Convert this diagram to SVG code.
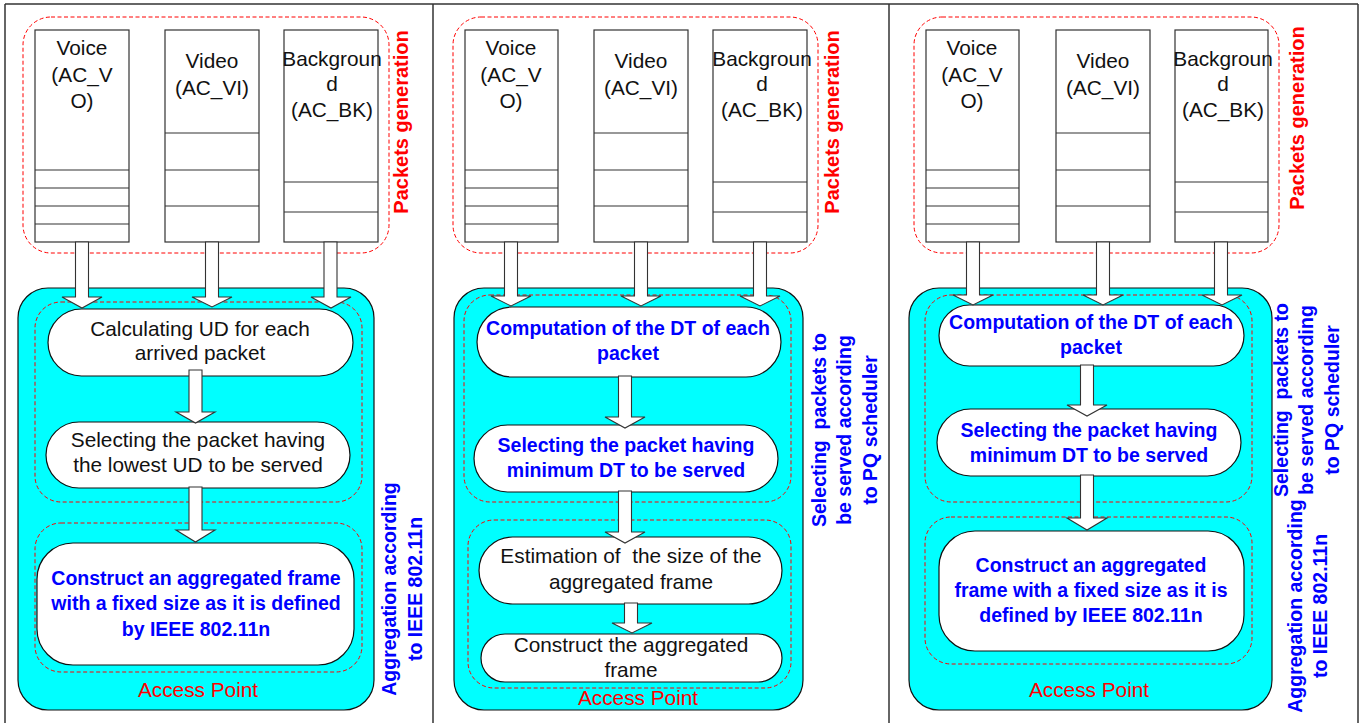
<svg xmlns="http://www.w3.org/2000/svg" width="1368" height="723" viewBox="0 0 1368 723">
<style>
.frame{fill:none;stroke:#333;stroke-width:1.5}
.q{fill:#fff;stroke:#333;stroke-width:1.2}
.ql{stroke:#333;stroke-width:1.2}
.dash{fill:none;stroke:#ff0000;stroke-width:1;stroke-dasharray:4 2.5}
.ap{fill:#00ffff;stroke:#111;stroke-width:1.2}
.ov{fill:#fff;stroke:#111;stroke-width:1.2}
.arr{fill:#fff;stroke:#333;stroke-width:1.1}
.t{font-family:"Liberation Sans",Arial,sans-serif;font-size:20.8px;fill:#111;text-anchor:middle}
.b{font-family:"Liberation Sans",Arial,sans-serif;font-size:19.5px;font-weight:bold;fill:#0000ff;text-anchor:middle}
.r{font-family:"Liberation Sans",Arial,sans-serif;font-size:20.8px;fill:#ff0000;text-anchor:middle}
.rb{font-family:"Liberation Sans",Arial,sans-serif;font-size:20px;font-weight:bold;fill:#ff0000;text-anchor:middle}
</style>
<rect width="1368" height="723" fill="#fff"/>
<g id="frame">
<line class="frame" x1="5" y1="4" x2="1358" y2="4"/>
<line class="frame" x1="5" y1="4" x2="5" y2="723"/>
<line class="frame" x1="433" y1="4" x2="433" y2="723"/>
<line class="frame" x1="889" y1="4" x2="889" y2="723"/>
<line class="frame" x1="1358" y1="4" x2="1358" y2="723"/>
</g>

<!-- Panel 1 -->
<g id="p1-gen">
<rect class="dash" x="23" y="17" width="366" height="236" rx="28"/>
<text class="rb" transform="translate(408 122) rotate(-90)">Packets generation</text>
</g>
<g id="p1-voice">
<rect class="q" x="35" y="30" width="94" height="212"/>
<line class="ql" x1="35" y1="170" x2="129" y2="170"/><line class="ql" x1="35" y1="188" x2="129" y2="188"/><line class="ql" x1="35" y1="206" x2="129" y2="206"/><line class="ql" x1="35" y1="224" x2="129" y2="224"/>
<text class="t"><tspan x="82" y="55">Voice</tspan><tspan x="82" y="82">(AC_V</tspan><tspan x="82" y="108">O)</tspan></text>
</g>
<g id="p1-video">
<rect class="q" x="165" y="30" width="94" height="212"/>
<line class="ql" x1="165" y1="133" x2="259" y2="133"/><line class="ql" x1="165" y1="170" x2="259" y2="170"/><line class="ql" x1="165" y1="206" x2="259" y2="206"/>
<text class="t"><tspan x="212" y="68">Video</tspan><tspan x="212" y="95">(AC_VI)</tspan></text>
</g>
<g id="p1-bk">
<rect class="q" x="284" y="30" width="94" height="212"/>
<line class="ql" x1="284" y1="182" x2="378" y2="182"/><line class="ql" x1="284" y1="212" x2="378" y2="212"/>
<text class="t"><tspan x="332" y="66">Backgroun</tspan><tspan x="332" y="91">d</tspan><tspan x="332" y="117">(AC_BK)</tspan></text>
</g>
<g id="p1-ap">
<rect class="ap" x="18" y="288" width="356" height="422" rx="30"/>
<rect class="dash" x="35" y="302" width="327" height="200" rx="26"/>
<rect class="dash" x="35" y="523" width="327" height="149" rx="26"/>
<text class="r" x="198" y="697">Access Point</text>
</g>
<g id="p1-n1">
<rect class="ov" x="48" y="309" width="305" height="67" rx="33.5"/>
<text class="t"><tspan x="200" y="336">Calculating UD for each</tspan><tspan x="200" y="360">arrived packet</tspan></text>
</g>
<g id="p1-n2">
<rect class="ov" x="46" y="422" width="304" height="66" rx="33"/>
<text class="t"><tspan x="198" y="447">Selecting the packet having</tspan><tspan x="198" y="472">the lowest UD to be served</tspan></text>
</g>
<g id="p1-n3">
<rect class="ov" x="37" y="543" width="317" height="122" rx="36"/>
<text class="b"><tspan x="196" y="585">Construct an aggregated frame</tspan><tspan x="196" y="610">with a fixed size as it is defined</tspan><tspan x="196" y="636">by IEEE 802.11n</tspan></text>
</g>
<g id="p1-label">
<text class="b" transform="translate(396 589) rotate(-90)">Aggregation according</text>
<text class="b" transform="translate(422 589) rotate(-90)">to IEEE 802.11n</text>
</g>

<!-- Panel 2 -->
<g id="p2-gen">
<rect class="dash" x="453" y="17" width="365" height="236" rx="28"/>
<text class="rb" transform="translate(839 122) rotate(-90)">Packets generation</text>
</g>
<g id="p2-voice">
<rect class="q" x="465" y="30" width="93" height="212"/>
<line class="ql" x1="465" y1="170" x2="558" y2="170"/><line class="ql" x1="465" y1="188" x2="558" y2="188"/><line class="ql" x1="465" y1="206" x2="558" y2="206"/><line class="ql" x1="465" y1="224" x2="558" y2="224"/>
<text class="t"><tspan x="511" y="55">Voice</tspan><tspan x="511" y="82">(AC_V</tspan><tspan x="511" y="108">O)</tspan></text>
</g>
<g id="p2-video">
<rect class="q" x="594" y="30" width="94" height="212"/>
<line class="ql" x1="594" y1="133" x2="688" y2="133"/><line class="ql" x1="594" y1="170" x2="688" y2="170"/><line class="ql" x1="594" y1="206" x2="688" y2="206"/>
<text class="t"><tspan x="641" y="68">Video</tspan><tspan x="641" y="95">(AC_VI)</tspan></text>
</g>
<g id="p2-bk">
<rect class="q" x="713" y="30" width="94" height="212"/>
<line class="ql" x1="713" y1="182" x2="807" y2="182"/><line class="ql" x1="713" y1="212" x2="807" y2="212"/>
<text class="t"><tspan x="762" y="66">Backgroun</tspan><tspan x="762" y="91">d</tspan><tspan x="762" y="117">(AC_BK)</tspan></text>
</g>
<g id="p2-ap">
<rect class="ap" x="454" y="288" width="349" height="422" rx="30"/>
<rect class="dash" x="464" y="295" width="327" height="207" rx="26"/>
<rect class="dash" x="468" y="520" width="323" height="168" rx="26"/>
<text class="r" x="638" y="705">Access Point</text>
</g>
<g id="p2-n1">
<rect class="ov" x="477" y="307" width="304" height="70" rx="35"/>
<text class="b"><tspan x="628" y="335">Computation of the DT of each</tspan><tspan x="628" y="360">packet</tspan></text>
</g>
<g id="p2-n2">
<rect class="ov" x="474" y="425" width="304" height="67" rx="33.5"/>
<text class="b"><tspan x="626" y="452">Selecting the packet having</tspan><tspan x="626" y="477">minimum DT to be served</tspan></text>
</g>
<g id="p2-n3">
<rect class="ov" x="479" y="537" width="303" height="67" rx="33.5"/>
<text class="t" xml:space="preserve"><tspan x="631" y="563">Estimation of  the size of the</tspan><tspan x="631" y="589">aggregated frame</tspan></text>
</g>
<g id="p2-n4">
<rect class="ov" x="481" y="634" width="301" height="48" rx="24"/>
<text class="t"><tspan x="631" y="652">Construct the aggregated</tspan><tspan x="631" y="677">frame</tspan></text>
</g>
<g id="p2-label">
<text class="b" transform="translate(826 430) rotate(-90)" xml:space="preserve">Selecting  packets to</text>
<text class="b" transform="translate(851 430) rotate(-90)">be served according</text>
<text class="b" transform="translate(877 430) rotate(-90)">to PQ scheduler</text>
</g>

<!-- Panel 3 -->
<g id="p3-gen">
<rect class="dash" x="914" y="17" width="365" height="236" rx="28"/>
<text class="rb" transform="translate(1304 118) rotate(-90)">Packets generation</text>
</g>
<g id="p3-voice">
<rect class="q" x="926" y="30" width="93" height="212"/>
<line class="ql" x1="926" y1="170" x2="1019" y2="170"/><line class="ql" x1="926" y1="188" x2="1019" y2="188"/><line class="ql" x1="926" y1="206" x2="1019" y2="206"/><line class="ql" x1="926" y1="224" x2="1019" y2="224"/>
<text class="t"><tspan x="972" y="55">Voice</tspan><tspan x="972" y="82">(AC_V</tspan><tspan x="972" y="108">O)</tspan></text>
</g>
<g id="p3-video">
<rect class="q" x="1056" y="30" width="94" height="212"/>
<line class="ql" x1="1056" y1="133" x2="1150" y2="133"/><line class="ql" x1="1056" y1="170" x2="1150" y2="170"/><line class="ql" x1="1056" y1="206" x2="1150" y2="206"/>
<text class="t"><tspan x="1103" y="68">Video</tspan><tspan x="1103" y="95">(AC_VI)</tspan></text>
</g>
<g id="p3-bk">
<rect class="q" x="1175" y="30" width="93" height="212"/>
<line class="ql" x1="1175" y1="182" x2="1268" y2="182"/><line class="ql" x1="1175" y1="212" x2="1268" y2="212"/>
<text class="t"><tspan x="1223" y="66">Backgroun</tspan><tspan x="1223" y="91">d</tspan><tspan x="1223" y="117">(AC_BK)</tspan></text>
</g>
<g id="p3-ap">
<rect class="ap" x="909" y="288" width="363" height="422" rx="30"/>
<rect class="dash" x="925" y="295" width="327" height="207" rx="26"/>
<rect class="dash" x="925" y="517" width="327" height="147" rx="26"/>
<text class="r" x="1089" y="697">Access Point</text>
</g>
<g id="p3-n1">
<rect class="ov" x="939" y="305" width="305" height="61" rx="30.5"/>
<text class="b"><tspan x="1091" y="329">Computation of the DT of each</tspan><tspan x="1091" y="354">packet</tspan></text>
</g>
<g id="p3-n2">
<rect class="ov" x="937" y="409" width="304" height="67" rx="33.5"/>
<text class="b"><tspan x="1089" y="437">Selecting the packet having</tspan><tspan x="1089" y="462">minimum DT to be served</tspan></text>
</g>
<g id="p3-n3">
<rect class="ov" x="939" y="531" width="305" height="120" rx="36"/>
<text class="b"><tspan x="1091" y="572">Construct an aggregated</tspan><tspan x="1091" y="597">frame with a fixed size as it is</tspan><tspan x="1091" y="622">defined by IEEE 802.11n</tspan></text>
</g>
<g id="p3-label">
<text class="b" transform="translate(1288 400) rotate(-90)" xml:space="preserve">Selecting  packets to</text>
<text class="b" transform="translate(1313 400) rotate(-90)">be served according</text>
<text class="b" transform="translate(1339 400) rotate(-90)">to PQ scheduler</text>
<text class="b" transform="translate(1302 606) rotate(-90)">Aggregation according</text>
<text class="b" transform="translate(1327 606) rotate(-90)">to IEEE 802.11n</text>
</g>

<g id="connectors">
<!-- panel 1 -->
<polygon class="arr" points="75.5,242 88.5,242 88.5,297 102,297 82,308 62,297 75.5,297"/>
<polygon class="arr" points="205.5,242 218.5,242 218.5,297 232,297 212,307 192,297 205.5,297"/>
<polygon class="arr" points="324,242 337,242 337,297 351,297 331,308 311,297 324,297"/>
<polygon class="arr" points="189,370 202,370 202,412 215,412 195.5,423 176,412 189,412"/>
<polygon class="arr" points="189,487 202,487 202,530 215,530 195.5,542 176,530 189,530"/>
<!-- panel 2 -->
<polygon class="arr" points="504.5,242 517.5,242 517.5,296 531,296 511,306 491,296 504.5,296"/>
<polygon class="arr" points="634.5,242 647.5,242 647.5,296 661,296 641,306 621,296 634.5,296"/>
<polygon class="arr" points="753.5,242 766.5,242 766.5,296 780,296 760,306 740,296 753.5,296"/>
<polygon class="arr" points="618.5,376 631.5,376 631.5,417 645,417 625,428 605,417 618.5,417"/>
<polygon class="arr" points="618.5,491 631.5,491 631.5,532 645,532 625,543 605,532 618.5,532"/>
<polygon class="arr" points="624.5,603 637.5,603 637.5,623 652,623 632,633 612,623 624.5,623"/>
<!-- panel 3 -->
<polygon class="arr" points="966.5,242 979.5,242 979.5,295 993,295 973,305 953,295 966.5,295"/>
<polygon class="arr" points="1096.5,242 1109.5,242 1109.5,295 1123,295 1103,305 1083,295 1096.5,295"/>
<polygon class="arr" points="1214.5,242 1227.5,242 1227.5,295 1242,295 1222,305 1202,295 1214.5,295"/>
<polygon class="arr" points="1080.5,365 1093.5,365 1093.5,405 1107,405 1087,416 1067,405 1080.5,405"/>
<polygon class="arr" points="1080.5,475 1093.5,475 1093.5,518 1107,518 1087,530 1067,518 1080.5,518"/>
</g>
</svg>
